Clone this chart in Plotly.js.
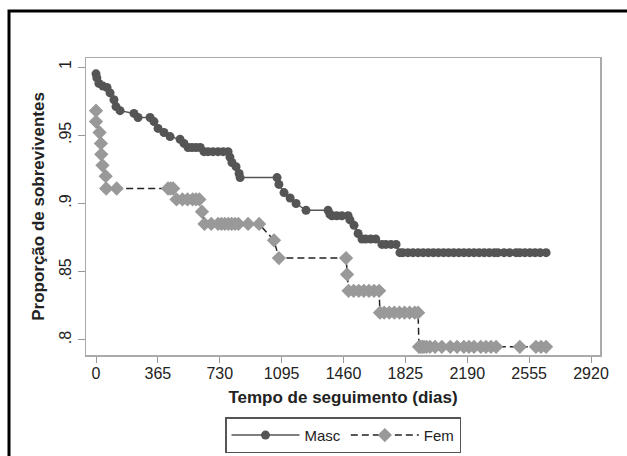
<!DOCTYPE html>
<html>
<head>
<meta charset="utf-8">
<script src="https://cdn.plot.ly/plotly-3.0.1.min.js"></script>
<style>html,body{margin:0;padding:0;background:#fff;}#chart{width:627px;height:456px;}</style>
</head>
<body>
<div id="chart"></div>
<script>
// Masculino: tempo (dias) e proporção de sobreviventes
const mascDays = [0, 5, 17, 41, 65, 83, 106, 118, 142, 224, 248, 319, 342, 366, 401, 437, 496, 519, 543, 566, 590, 615, 637, 661, 690, 720, 750, 779, 790, 802, 826, 844, 850, 1068, 1079, 1109, 1145, 1180, 1239, 1369, 1380, 1392, 1420, 1450, 1487, 1498, 1522, 1546, 1569, 1590, 1620, 1650, 1687, 1710, 1740, 1770, 1793, 1810, 1840, 1870, 1900, 1930, 1960, 1990, 2020, 2050, 2080, 2110, 2140, 2170, 2200, 2230, 2260, 2290, 2320, 2350, 2371, 2407, 2440, 2478, 2500, 2530, 2560, 2590, 2620, 2655];
const mascSurv = [0.995, 0.992, 0.988, 0.986, 0.985, 0.981, 0.976, 0.971, 0.968, 0.966, 0.963, 0.963, 0.960, 0.955, 0.952, 0.949, 0.947, 0.944, 0.941, 0.941, 0.941, 0.941, 0.938, 0.938, 0.938, 0.938, 0.938, 0.938, 0.934, 0.930, 0.927, 0.922, 0.919, 0.919, 0.914, 0.908, 0.904, 0.900, 0.895, 0.895, 0.892, 0.891, 0.891, 0.891, 0.891, 0.888, 0.884, 0.878, 0.874, 0.874, 0.874, 0.874, 0.870, 0.870, 0.870, 0.870, 0.864, 0.864, 0.864, 0.864, 0.864, 0.864, 0.864, 0.864, 0.864, 0.864, 0.864, 0.864, 0.864, 0.864, 0.864, 0.864, 0.864, 0.864, 0.864, 0.864, 0.864, 0.864, 0.864, 0.864, 0.864, 0.864, 0.864, 0.864, 0.864, 0.864];

// Feminino
const femDays = [0, 0, 21, 29, 31, 38, 57, 60, 122, 425, 440, 455, 475, 510, 540, 570, 590, 610, 625, 640, 680, 720, 740, 760, 780, 800, 820, 840, 897, 962, 1050, 1079, 1475, 1481, 1490, 1520, 1550, 1580, 1610, 1640, 1670, 1675, 1700, 1730, 1760, 1790, 1820, 1850, 1880, 1900, 1905, 1915, 1925, 1935, 1950, 1970, 2000, 2040, 2090, 2130, 2170, 2200, 2230, 2270, 2300, 2330, 2360, 2500, 2595, 2625, 2655];
const femSurv = [0.968, 0.960, 0.952, 0.944, 0.936, 0.928, 0.920, 0.911, 0.911, 0.911, 0.911, 0.911, 0.903, 0.903, 0.903, 0.903, 0.903, 0.903, 0.894, 0.885, 0.885, 0.885, 0.885, 0.885, 0.885, 0.885, 0.885, 0.885, 0.885, 0.885, 0.873, 0.860, 0.860, 0.848, 0.836, 0.836, 0.836, 0.836, 0.836, 0.836, 0.836, 0.820, 0.820, 0.820, 0.820, 0.820, 0.820, 0.820, 0.820, 0.820, 0.795, 0.795, 0.795, 0.795, 0.795, 0.795, 0.795, 0.795, 0.795, 0.795, 0.795, 0.795, 0.795, 0.795, 0.795, 0.795, 0.795, 0.795, 0.795, 0.795, 0.795];

const xTicks = [0, 365, 730, 1095, 1460, 1825, 2190, 2555, 2920];
const yTicks = [0.8, 0.85, 0.9, 0.95, 1];
const yTickText = ['.8', '.85', '.9', '.95', '1'];

const traces = [
  {
    x: mascDays, y: mascSurv, name: 'Masc', type: 'scatter', mode: 'lines+markers',
    line: {color: '#555555', width: 1.5},
    marker: {symbol: 'circle', size: 9, color: '#555555'}
  },
  {
    x: femDays, y: femSurv, name: 'Fem', type: 'scatter', mode: 'lines+markers',
    line: {color: '#222222', width: 1.5, dash: '7px,4px'},
    marker: {symbol: 'diamond', size: 11, color: '#999999'}
  }
];

const fontFam = '"Liberation Sans", Arial, sans-serif';
const layout = {
  width: 627, height: 456,
  margin: {l: 86, r: 27, t: 58, b: 101, autoexpand: false},
  paper_bgcolor: '#ffffff', plot_bgcolor: '#ffffff',
  font: {family: fontFam, size: 15, color: '#222'},
  showlegend: true,
  legend: {
    orientation: 'h', x: 0.5, xanchor: 'center', y: -0.21, yanchor: 'top',
    bordercolor: '#555', borderwidth: 1.5, itemwidth: 68,
    font: {family: fontFam, size: 15, color: '#222'}, bgcolor: '#fff',
    traceorder: 'normal'
  },
  xaxis: {
    range: [-59, 2973], tickvals: xTicks, ticktext: xTicks.map(String),
    ticks: 'outside', ticklen: 6, tickcolor: '#999', tickwidth: 1,
    ticklabelstandoff: -3, automargin: false,
    showline: true, linecolor: '#aaa', linewidth: 1.5, mirror: true,
    showgrid: false, zeroline: false,
    tickfont: {family: fontFam, size: 16, color: '#222'},
    title: {text: 'Tempo de seguimento (dias)', font: {family: fontFam, size: 17, color: '#222', weight: 'bold'}, standoff: 10}
  },
  yaxis: {
    range: [0.789, 1.0066], tickvals: yTicks, ticktext: yTickText, tickangle: -90,
    ticks: 'outside', ticklen: 7, tickcolor: '#999', tickwidth: 1,
    ticklabelstandoff: 0, automargin: false,
    showline: true, linecolor: '#aaa', linewidth: 1.5, mirror: true,
    showgrid: false, zeroline: false,
    tickfont: {family: fontFam, size: 16, color: '#222'},
    title: {text: 'Proporção de sobreviventes', font: {family: fontFam, size: 17, color: '#222', weight: 'bold'}, standoff: 8}
  },
  shapes: [{
    type: 'rect', xref: 'paper', yref: 'paper',
    x0: (9 - 86) / 514, x1: 1.3, y0: -0.6, y1: (355 - 11) / 297,
    line: {color: '#000', width: 3}, fillcolor: 'rgba(0,0,0,0)', layer: 'above'
  }]
};

Plotly.newPlot('chart', traces, layout, {displayModeBar: false, staticPlot: true});
</script>
</body>
</html>
